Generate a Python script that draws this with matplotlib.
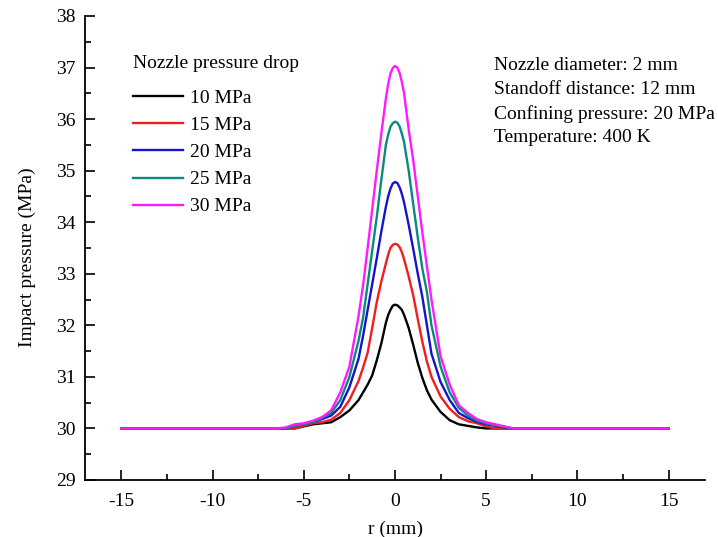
import matplotlib
matplotlib.use("Agg")
import matplotlib.pyplot as plt
from matplotlib.ticker import MultipleLocator

plt.rcParams['font.family'] = ['Liberation Serif', 'DejaVu Serif']
plt.rcParams['axes.unicode_minus'] = False

# radial position (mm)
r = [-15, -6.5, -6, -5.5, -5, -4.5, -4, -3.5, -3, -2.5,
     -2, -1.75, -1.5, -1.25, -1, -0.75, -0.5, -0.375, -0.25, -0.125, 0,
     0.125, 0.25, 0.375, 0.5, 0.75, 1, 1.25, 1.5, 1.75, 2,
     2.5, 3, 3.5, 4, 4.5, 5, 5.5, 6, 6.5, 15]

# impact pressure (MPa) for each nozzle pressure drop
p10 = [30.0, 30.0, 30.0, 30.0, 30.04, 30.08, 30.1, 30.12, 30.22, 30.35,
       30.55, 30.7, 30.85, 31.03, 31.32, 31.65, 32.05, 32.2, 32.3, 32.38, 32.4,
       32.39, 32.35, 32.3, 32.2, 31.95, 31.62, 31.27, 30.98, 30.74, 30.56,
       30.32, 30.16, 30.08, 30.05, 30.02, 30.0, 30.0, 30.0, 30.0, 30.0]
p15 = [30.0, 30.0, 30.0, 30.0, 30.05, 30.1, 30.12, 30.17, 30.3, 30.55,
       30.92, 31.18, 31.47, 31.95, 32.45, 32.85, 33.2, 33.37, 33.5, 33.56, 33.58,
       33.57, 33.52, 33.42, 33.28, 32.95, 32.58, 32.12, 31.68, 31.3, 31.0,
       30.62, 30.38, 30.22, 30.14, 30.1, 30.04, 30.0, 30.0, 30.0, 30.0]
p20 = [30.0, 30.0, 30.0, 30.05, 30.08, 30.12, 30.18, 30.25, 30.42, 30.8,
       31.35, 31.8, 32.3, 32.8, 33.3, 33.82, 34.3, 34.5, 34.65, 34.75, 34.78,
       34.76, 34.68, 34.55, 34.38, 33.95, 33.48, 33.0, 32.55, 32.0, 31.45,
       30.9, 30.55, 30.3, 30.2, 30.13, 30.08, 30.05, 30.02, 30.0, 30.0]
p25 = [30.0, 30.0, 30.0, 30.05, 30.08, 30.12, 30.2, 30.3, 30.55, 31.0,
       31.7, 32.15, 32.8, 33.45, 34.1, 34.82, 35.5, 35.7, 35.85, 35.92, 35.95,
       35.93, 35.86, 35.72, 35.55, 35.0, 34.35, 33.7, 33.1, 32.65, 32.0,
       31.2, 30.7, 30.4, 30.25, 30.15, 30.1, 30.06, 30.03, 30.0, 30.0]
p30 = [30.0, 30.0, 30.02, 30.08, 30.1, 30.15, 30.22, 30.35, 30.7, 31.2,
       32.18, 32.78, 33.5, 34.25, 35.0, 35.72, 36.4, 36.68, 36.88, 36.99, 37.03,
       37.0, 36.9, 36.72, 36.5, 35.8, 35.2, 34.5, 33.8, 33.15, 32.5,
       31.4, 30.85, 30.45, 30.3, 30.18, 30.12, 30.08, 30.04, 30.0, 30.0]

labels = ['10 MPa', '15 MPa', '20 MPa', '25 MPa', '30 MPa']
colors = ['black', '#f01e1e', '#1414cc', '#0a8a7e', '#ff1aff']

fig = plt.figure(figsize=(7.18, 5.37), dpi=100)
ax = fig.add_axes([85/718, 1 - 480/537, 620/718, 464/537])

for y, lab, c in zip([p10, p15, p20, p25, p30], labels, colors):
    ax.plot(r, y, color=c, lw=1.7, label=lab)

ax.set_xlim(-17, 17)
ax.set_ylim(29, 38)
ax.xaxis.set_major_locator(MultipleLocator(5))
ax.xaxis.set_minor_locator(MultipleLocator(2.5))
ax.yaxis.set_major_locator(MultipleLocator(1))
ax.yaxis.set_minor_locator(MultipleLocator(0.5))
ax.tick_params(which='both', direction='in', width=1.2, labelsize=14, pad=7)
ax.tick_params(which='major', length=7)
ax.tick_params(which='minor', length=4)
ax.tick_params(axis='x', pad=9)

for s in ['top', 'right']:
    ax.spines[s].set_visible(False)
for s in ['left', 'bottom']:
    ax.spines[s].set_linewidth(1.3)

ax.set_xlabel('r (mm)', fontsize=14, labelpad=8)
ax.set_ylabel('Impact pressure (MPa)', fontsize=14)
ax.yaxis.set_label_coords(-0.079, 0.48)

ax.text(0.0774, 0.8966, 'Nozzle pressure drop', transform=ax.transAxes,
        fontsize=14, va='center', ha='left')
ax.legend(loc='upper left', bbox_to_anchor=(0.0774, 0.842), frameon=False,
          fontsize=14, borderpad=0, borderaxespad=0,
          handlelength=2.57, handletextpad=0.36, labelspacing=0.49)

ax.text(0.6597, 0.912, 'Nozzle diameter: 2 mm\nStandoff distance: 12 mm\n'
        'Confining pressure: 20 MPa\nTemperature: 400 K',
        transform=ax.transAxes, fontsize=14, va='top', ha='left',
        linespacing=1.52)

fig.savefig('out.png', dpi=100)
